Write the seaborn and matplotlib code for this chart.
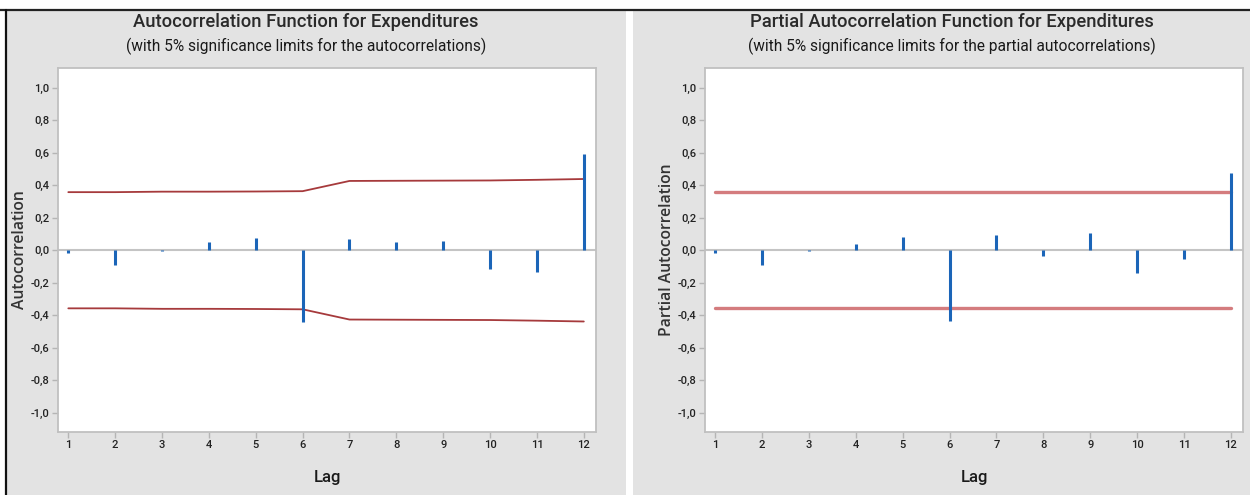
import numpy as np
import pandas as pd
import matplotlib
matplotlib.use("Agg")
import matplotlib.pyplot as plt
import seaborn as sns
from matplotlib.patches import Rectangle
from matplotlib.lines import Line2D
from matplotlib.ticker import FuncFormatter

sns.set_style("white")
plt.rcParams['font.family'] = ['Open Sans', 'DejaVu Sans']

# values
lags = [1, 2, 3, 4, 5, 6, 7, 8, 9, 10, 11, 12]
acf_vals = [-0.02, -0.093, -0.005, 0.05, 0.075, -0.44, 0.068, 0.053, 0.057, -0.117, -0.131, 0.59]
acf_limit = [0.358, 0.358, 0.361, 0.361, 0.362, 0.364, 0.427, 0.428, 0.429, 0.430, 0.434, 0.439]
pacf_vals = [-0.02, -0.093, -0.002, 0.04, 0.082, -0.435, 0.092, -0.035, 0.105, -0.142, -0.055, 0.478]
pacf_limit = [0.358, 0.358, 0.358, 0.358, 0.358, 0.358, 0.358, 0.358, 0.358, 0.358, 0.358, 0.358]
y_ticks = [-1.0, -0.8, -0.6, -0.4, -0.2, 0.0, 0.2, 0.4, 0.6, 0.8, 1.0]

W, H = 1250, 495
fig = plt.figure(figsize=(12.5, 4.95), dpi=100, facecolor='white')

def px(x0, y0, x1, y1):
    # pixel box (top-left origin) -> figure fraction rect
    return [x0 / W, 1 - y1 / H, (x1 - x0) / W, (y1 - y0) / H]

# grey panels, like the minitab screenshot
for x0, x1 in [(7, 626), (633, 1250)]:
    r = px(x0, 10, x1, H)
    fig.patches.append(Rectangle((r[0], r[1]), r[2], r[3], transform=fig.transFigure,
                                 facecolor='#e3e3e3', edgecolor='none', zorder=-5))
fig.lines.append(Line2D([0, 1], [1 - 9.5 / H] * 2, transform=fig.transFigure, color='#222222', lw=1.6))
fig.lines.append(Line2D([6 / W] * 2, [0, 1 - 9.5 / H], transform=fig.transFigure, color='#111111', lw=1.6))

panels = [
    dict(box=(58, 68, 596, 432), vals=acf_vals, limit=acf_limit, lcolor='#a63a3c', lw=1.3,
         title="Autocorrelation Function for Expenditures",
         sub="(with 5% significance limits for the autocorrelations)",
         ylabel="Autocorrelation", tx=306, ylx=28),
    dict(box=(705, 68, 1243, 432), vals=pacf_vals, limit=pacf_limit, lcolor='#d47c7e', lw=2.4,
         title="Partial Autocorrelation Function for Expenditures",
         sub="(with 5% significance limits for the partial autocorrelations)",
         ylabel="Partial Autocorrelation", tx=952, ylx=675),
]

narrow = ['Liberation Sans Narrow', 'Roboto', 'DejaVu Sans']

for p in panels:
    ax = fig.add_axes(px(*p['box']))
    ax.set_facecolor('white')

    lim = pd.DataFrame({'lag': lags + lags,
                        'limit': p['limit'] + [-v for v in p['limit']],
                        'side': ['upper'] * 12 + ['lower'] * 12})
    sns.lineplot(data=lim, x='lag', y='limit', units='side', estimator=None,
                 color=p['lcolor'], lw=p['lw'], ax=ax, zorder=2)

    ax.axhline(0, color='#c4c4c4', lw=1.5, zorder=1)
    ax.vlines(lags, 0, p['vals'], color='#1b65b8', lw=2.2, zorder=3)

    ax.set_xlim(0.78, 12.26)
    ax.set_ylim(-1.12, 1.123)
    ax.set_xticks(lags)
    ax.set_yticks(y_ticks)
    ax.yaxis.set_major_formatter(FuncFormatter(lambda v, pos: f"{v:.1f}".replace('.', ',').replace('-0,0', '0,0')))
    ax.tick_params(axis='both', which='both', direction='out', length=4, width=1,
                   color='#b5b5b5', labelcolor='#222222', labelsize=8, pad=2,
                   bottom=True, left=True)
    for lab in ax.get_xticklabels() + ax.get_yticklabels():
        lab.set_family(narrow)
        lab.set_fontweight('medium')
    for s in ax.spines.values():
        s.set_color('#c0c0c0')
        s.set_linewidth(1.3)

    ax.set_xlabel("Lag", fontsize=12, color='#1a1a1a', labelpad=14, family=narrow, fontweight='medium')
    ax.set_ylabel(p['ylabel'], fontsize=11.3, fontweight='semibold', color='#333333')
    x0, y0, x1, y1 = p['box']
    ax.yaxis.set_label_coords((p['ylx'] - x0) / (x1 - x0), 0.5)

    fig.text(p['tx'] / W, 1 - 22 / H, p['title'], ha='center', va='center',
             fontsize=13.2, color='#2a2a2a', family=narrow, fontweight='medium')
    fig.text(p['tx'] / W, 1 - 46 / H, p['sub'], ha='center', va='center',
             fontsize=11.2, color='#1a1a1a', family=narrow)

fig.savefig("out.png", dpi=100, facecolor=fig.get_facecolor())
